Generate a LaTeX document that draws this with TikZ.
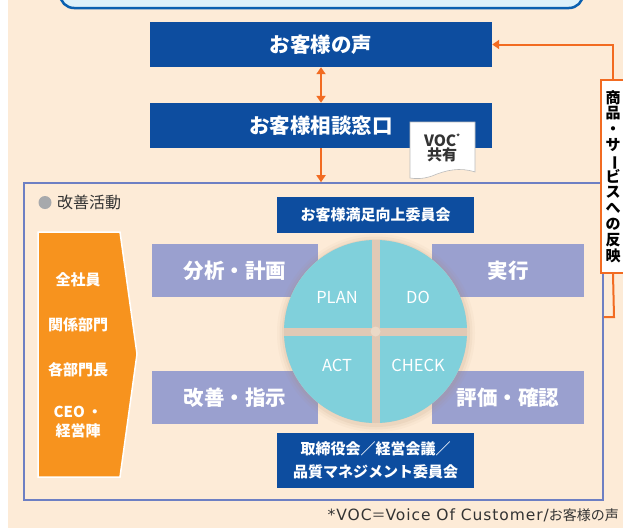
\documentclass[tikz,border=0pt]{standalone}
\usepackage{fontspec}
\setmainfont{Noto Sans CJK JP}
\newfontfamily\widelatin{DejaVu Sans}[LetterSpace=6]
\usetikzlibrary{arrows.meta}
\definecolor{bgpeach}{HTML}{FDEBD7}
\definecolor{navy}{HTML}{0D4D9F}
\definecolor{topblue}{HTML}{0A60B0}
\definecolor{topfill}{HTML}{DDF1FA}
\definecolor{arrorange}{HTML}{F26B21}
\definecolor{frameblue}{HTML}{6D7FC3}
\definecolor{lav}{HTML}{9AA0CF}
\definecolor{panelorange}{HTML}{F7931E}
\definecolor{teal}{HTML}{80D0DB}
\definecolor{gapbrown}{HTML}{E0C9B5}
\definecolor{gaplight}{HTML}{EBD9C7}
\definecolor{shadowbrown}{HTML}{B08A68}
\definecolor{dotgrey}{HTML}{A7A9AC}
\definecolor{darktext}{HTML}{333333}
\definecolor{docborder}{HTML}{BBBBBB}
\tikzset{
  navybox/.style={fill=navy, text=white, inner sep=0pt, minimum width=342pt, minimum height=45pt,
    font=\bfseries\fontsize{20.5}{24}\selectfont},
  committee/.style={fill=navy, text=white, inner sep=0pt, minimum width=197pt, align=center,
    font=\bfseries\fontsize{15}{23}\selectfont},
  pbox/.style={fill=lav, text=white, inner sep=0pt, minimum height=53pt,
    font=\bfseries\fontsize{20.5}{24}\selectfont},
  pdca/.style={text=white, inner sep=0pt, font=\fontsize{16.5}{20}\selectfont},
  paneltext/.style={text=white, inner sep=0pt, align=center, font=\bfseries\fontsize{15}{19}\selectfont},
  oarrow/.style={draw=arrorange, line width=2pt},
  otip/.style={-{Triangle[width=9pt,length=7pt]}},
  obothtip/.style={{Triangle[width=9pt,length=7pt]}-{Triangle[width=9pt,length=7pt]}},
}
\begin{document}
\begin{tikzpicture}[x=1pt,y=-1pt]
\useasboundingbox (0,0) rectangle (623,528);
\fill[white] (0,0) rectangle (623,528);
\fill[bgpeach] (8,0) rectangle (623,528);
% top cut-off box
\draw[draw=topblue, fill=topfill, line width=2.5pt, rounded corners=14pt] (60,-40) rectangle (583,8);

% main boxes
\node[navybox] (voice) at (321,44.5) {お客様の声};
\node[navybox] (consult) at (321,125.5) {お客様相談窓口};

% frame
\node[draw=frameblue, line width=1.6pt, minimum width=579pt, minimum height=317pt, inner sep=0pt] (frame) at (313.5,341.5) {};

% arrows
\draw[oarrow, obothtip] (voice.south) -- (consult.north);
\draw[oarrow, otip] (consult.south) -- (consult.south |- frame.north);

% VOC document
\draw[docborder, fill=white, line width=0.6pt]
  (410,122) -- (475,122) -- (475,172)
  .. controls (460,167) and (446,170) .. (432,176)
  .. controls (423,179) and (416,179) .. (410,178) -- cycle;
\node[text=darktext, inner sep=0pt, font=\bfseries\fontsize{15.5}{15}\selectfont] (voc) at (442,140) {VOC\raisebox{0.45em}{\fontsize{7}{7}\selectfont *}};
\node[text=darktext, inner sep=0pt, font=\bfseries\fontsize{15}{15}\selectfont] (share) at (442,155) {共有};

% feedback label
\node[draw=arrorange, fill=white, line width=2pt, minimum width=24pt, minimum height=193pt, inner sep=0pt,
  align=center, font=\bfseries\fontsize{15}{15.8}\selectfont] (reflect) at (613,176.5)
  {商\\品\\・\\サ\\\smash{\rotatebox[origin=c]{-90}{ー}}\\ビ\\ス\\へ\\の\\反\\映};
\coordinate (fb) at (614,317);
\draw[oarrow] (frame.east |- fb) -- (fb) -- (reflect.south);
\draw[oarrow, otip] (reflect.north) -- (reflect.north |- voice.east) -- (voice.east);

% kaizen label
\fill[dotgrey] (45,202.5) circle (6.5);
\node[anchor=west, text=darktext, inner sep=0pt, font=\fontsize{16}{18}\selectfont] (kaizen) at (57,202) {改善活動};

% orange panel
\filldraw[fill=panelorange, draw=white, line width=1.5pt]
  (38,232) -- (120,232) -- (137,354) -- (120,477) -- (38,477) -- cycle;
\node[paneltext] (p1) at (78,280) {全社員};
\node[paneltext] (p2) at (78,325) {関係部門};
\node[paneltext] (p3) at (78,370) {各部門長};
\node[paneltext] (p4) at (78,422.5) {CEO\,・\\経営陣};

% purple boxes
\node[pbox, minimum width=166pt] (plan) at (235,270.5) {分析・計画};
\node[pbox, minimum width=152pt] (do) at (508,270.5) {実行};
\node[pbox, minimum width=166pt] (act) at (235,397.5) {改善・指示};
\node[pbox, minimum width=152pt] (check) at (508,397.5) {評価・確認};

% committees
\node[committee, minimum height=36pt] (csc) at (375.5,215) {お客様満足向上委員会};
\node[committee, minimum height=55pt] (board) at (375.5,460.5) {取締役会／経営会議／\\品質マネジメント委員会};

% PDCA circle
\coordinate (c) at (375.5,331.5);
\fill[shadowbrown, opacity=0.05] (376,333) circle (99);
\fill[shadowbrown, opacity=0.07] (376,333) circle (96.5);
\fill[shadowbrown, opacity=0.10] (376,333) circle (94);
\fill[gapbrown] (c) circle (91.5);
\fill[gaplight] (c) circle (5);
\begin{scope}
  \clip (c) circle (91.5);
  \fill[teal] (270,230) rectangle (371.5,327.5);
  \fill[teal] (379.5,230) rectangle (480,327.5);
  \fill[teal] (270,335.5) rectangle (371.5,430);
  \fill[teal] (379.5,335.5) rectangle (480,430);
\end{scope}
\node[pdca] (tplan) at (337,297) {PLAN};
\node[pdca] (tdo) at (418,297) {DO};
\node[pdca] (tact) at (337,365) {ACT};
\node[pdca] (tcheck) at (418,365) {CHECK};

% footnote
\node[anchor=east, text=darktext, inner sep=0pt, font=\fontsize{14}{16}\selectfont] (foot) at (619,515)
  {{\widelatin\fontsize{15.5}{16}\selectfont *VOC}＝{\widelatin\fontsize{15.5}{16}\selectfont Voice Of Customer/}お客様の声};
\end{tikzpicture}
\end{document}
